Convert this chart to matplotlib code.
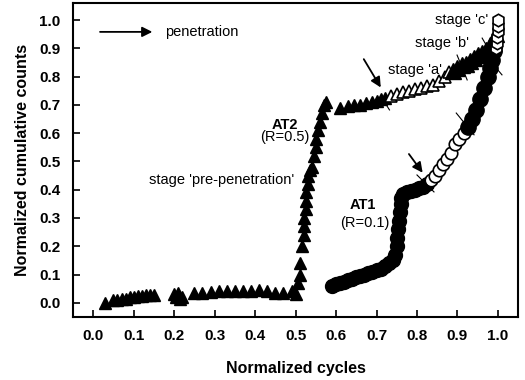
import matplotlib
matplotlib.use('Agg')
import matplotlib.pyplot as plt

plt.rcParams['font.family'] = ['Liberation Sans', 'DejaVu Sans']

# AT2 (R=0.5), triangles
at2_x = [0.03, 0.05, 0.06, 0.07, 0.08, 0.09, 0.10, 0.11, 0.12, 0.13, 0.14, 0.15,
         0.20, 0.205, 0.21, 0.215, 0.22,
         0.25, 0.27, 0.29, 0.31, 0.33, 0.35, 0.37, 0.39, 0.41, 0.43, 0.45, 0.47, 0.49, 0.50,
         0.505, 0.51, 0.51, 0.515, 0.52, 0.52, 0.52, 0.525, 0.525, 0.525, 0.53, 0.53,
         0.535, 0.54, 0.545, 0.55, 0.55, 0.555, 0.56, 0.565, 0.57, 0.575,
         0.61, 0.63, 0.645, 0.66, 0.675, 0.69, 0.70, 0.71, 0.72]
at2_y = [0.00, 0.01, 0.01, 0.015, 0.015, 0.02, 0.02, 0.025, 0.025, 0.027, 0.027, 0.027,
         0.03, 0.02, 0.035, 0.015, 0.02,
         0.035, 0.035, 0.037, 0.04, 0.04, 0.04, 0.04, 0.04, 0.045, 0.04, 0.035, 0.035, 0.04, 0.03,
         0.07, 0.10, 0.14, 0.20, 0.24, 0.27, 0.30, 0.33, 0.36, 0.39, 0.42, 0.45,
         0.47, 0.48, 0.52, 0.55, 0.58, 0.61, 0.64, 0.67, 0.70, 0.71,
         0.69, 0.695, 0.70, 0.70, 0.705, 0.71, 0.715, 0.72, 0.725]
at2_open_x = [0.735, 0.75, 0.765, 0.78, 0.795, 0.81, 0.825, 0.84, 0.855, 0.87, 0.88]
at2_open_y = [0.73, 0.74, 0.745, 0.75, 0.755, 0.76, 0.765, 0.77, 0.785, 0.80, 0.815]
at2_end_x = [0.89, 0.90, 0.91, 0.92, 0.93, 0.94, 0.95, 0.96, 0.97, 0.98, 0.99, 0.995]
at2_end_y = [0.82, 0.83, 0.84, 0.845, 0.855, 0.865, 0.875, 0.885, 0.895, 0.91, 0.93, 0.95]

# AT1 (R=0.1), circles
at1_x = [0.59, 0.60, 0.61, 0.62, 0.63, 0.64, 0.65, 0.66, 0.67, 0.68, 0.69, 0.70, 0.71,
         0.72, 0.73, 0.74, 0.745, 0.75, 0.75, 0.752, 0.755, 0.757, 0.76, 0.76, 0.765,
         0.775, 0.785, 0.795, 0.805, 0.815, 0.825]
at1_y = [0.06, 0.065, 0.07, 0.075, 0.08, 0.085, 0.09, 0.095, 0.10, 0.105, 0.11, 0.115, 0.12,
         0.13, 0.14, 0.15, 0.17, 0.20, 0.23, 0.26, 0.29, 0.32, 0.35, 0.37, 0.385,
         0.39, 0.395, 0.40, 0.405, 0.41, 0.42]
at1_open_x = [0.835, 0.845, 0.855, 0.865, 0.875, 0.885, 0.895, 0.905, 0.915]
at1_open_y = [0.435, 0.45, 0.47, 0.49, 0.51, 0.53, 0.56, 0.58, 0.60]
at1_end_x = [0.925, 0.935, 0.945, 0.955, 0.965, 0.975, 0.98, 0.985, 0.99]
at1_end_y = [0.62, 0.65, 0.68, 0.72, 0.76, 0.80, 0.83, 0.86, 0.89]
at1_top_x = [0.995, 0.997, 0.998, 0.999, 1.0, 1.0]
at1_top_y = [0.90, 0.92, 0.94, 0.96, 0.98, 1.0]

fig = plt.figure(figsize=(5.25, 3.8), dpi=100)
ax = fig.add_axes([0.139, 0.166, 0.848, 0.826])

ms = 8
ax.plot(at2_x, at2_y, '^', color='black', ms=ms + 1, mec='black', ls='none')
ax.plot(at2_open_x, at2_open_y, '^', color='white', ms=ms, mec='black', mew=1.2, ls='none')
ax.plot(at2_end_x, at2_end_y, '^', color='black', ms=ms + 3, mec='black', ls='none')
ax.plot(at1_x, at1_y, 'o', color='black', ms=ms + 2, mec='black', ls='none')
ax.plot(at1_open_x, at1_open_y, 'o', color='white', ms=ms + 1, mec='black', mew=1.2, ls='none')
ax.plot(at1_end_x, at1_end_y, 'o', color='black', ms=ms + 3, mec='black', ls='none')
ax.plot(at1_top_x, at1_top_y, 'h', color='white', ms=ms + 1, mec='black', mew=1.2, ls='none')

# stage boundary slashes
slashes = [((0.712, 0.728), (0.732, 0.682)),
           ((0.899, 0.876), (0.924, 0.788)),
           ((0.961, 0.936), (0.978, 0.894)),
           ((0.983, 0.852), (1.01, 0.806)),
           ((0.897, 0.671), (0.941, 0.594)),
           ((0.800, 0.452), (0.842, 0.392))]
for (x0, y0), (x1, y1) in slashes:
    ax.plot([x0, x1], [y0, y1], color='black', lw=0.8)

arrow = dict(arrowstyle='-|>', color='black', lw=1.3, mutation_scale=15)
ax.annotate('', xy=(0.153, 0.958), xytext=(0.01, 0.958), arrowprops=arrow)
ax.text(0.177, 0.958, 'penetration', fontsize=10.5, va='center')
ax.annotate('', xy=(0.714, 0.753), xytext=(0.665, 0.87), arrowprops=arrow)
ax.annotate('', xy=(0.818, 0.452), xytext=(0.776, 0.534), arrowprops=arrow)

fs = 10.5
ax.text(0.473, 0.629, 'AT2', fontsize=fs, fontweight='bold', ha='center', va='center')
ax.text(0.473, 0.585, '(R=0.5)', fontsize=fs, ha='center', va='center')
ax.text(0.318, 0.435, "stage 'pre-penetration'", fontsize=fs, ha='center', va='center')
ax.text(0.665, 0.346, 'AT1', fontsize=fs, fontweight='bold', ha='center', va='center')
ax.text(0.672, 0.283, '(R=0.1)', fontsize=fs, ha='center', va='center')
ax.text(0.975, 1.0, "stage 'c'", fontsize=fs, ha='right', va='center')
ax.text(0.929, 0.92, "stage 'b'", fontsize=fs, ha='right', va='center')
ax.text(0.862, 0.823, "stage 'a'", fontsize=fs, ha='right', va='center')

ax.set_xlim(-0.05, 1.05)
ax.set_ylim(-0.05, 1.06)
ax.set_xticks([i / 10 for i in range(11)])
ax.set_yticks([i / 10 for i in range(11)])
ax.set_xticklabels(['%.1f' % (i / 10) for i in range(11)], fontweight='bold')
ax.set_yticklabels(['%.1f' % (i / 10) for i in range(11)], fontweight='bold')
ax.tick_params(direction='in', labelsize=11, width=1.2, length=5, pad=9)
for sp in ax.spines.values():
    sp.set_linewidth(1.5)
ax.set_xlabel('Normalized cycles', fontsize=11.5, fontweight='bold', labelpad=13)
ax.set_ylabel('Normalized cumulative counts', fontsize=11.5, fontweight='bold', labelpad=7)

fig.savefig('out.png', dpi=100)
